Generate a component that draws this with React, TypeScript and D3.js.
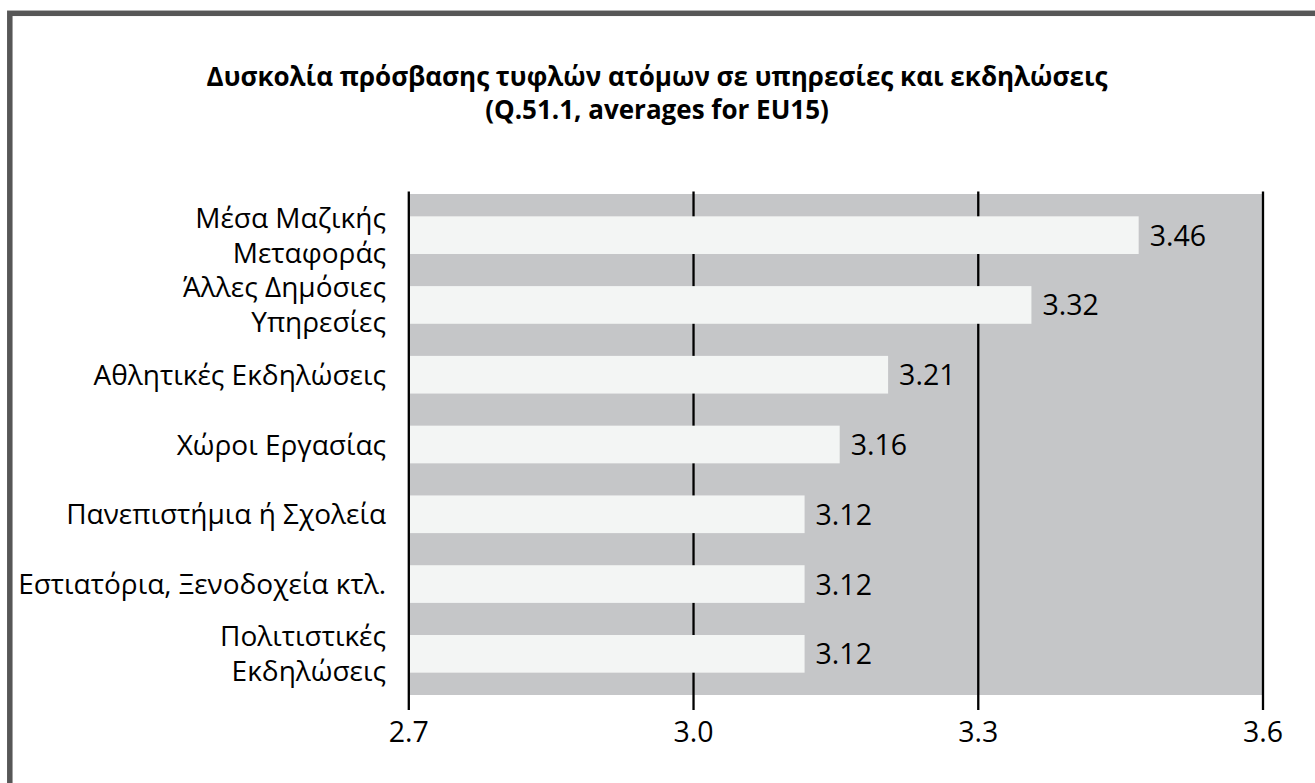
import React, { useEffect, useRef } from "react";
import { select, scaleLinear, scaleBand, format } from "d3";

const width = 1315;
const height = 783;

const title = [
  "Δυσκολία πρόσβασης τυφλών ατόμων σε υπηρεσίες και εκδηλώσεις",
  "(Q.51.1, averages for EU15)",
];

// category labels, already split into the lines they are drawn on
const categories = [
  ["Μέσα Μαζικής", "Μεταφοράς"],
  ["Άλλες Δημόσιες", "Υπηρεσίες"],
  ["Αθλητικές Εκδηλώσεις"],
  ["Χώροι Εργασίας"],
  ["Πανεπιστήμια ή Σχολεία"],
  ["Εστιατόρια, Ξενοδοχεία κτλ."],
  ["Πολιτιστικές", "Εκδηλώσεις"],
];

// bar lengths as drawn, and the numbers printed beside them
const values = [3.469, 3.356, 3.205, 3.154, 3.117, 3.117, 3.117];
const valueLabels = ["3.46", "3.32", "3.21", "3.16", "3.12", "3.12", "3.12"];
const xTicks = [2.7, 3.0, 3.3, 3.6];

const plot = { left: 408.8, right: 1263, top: 194, bottom: 695 };
const font = "'Open Sans', 'Noto Sans', sans-serif";

const App = () => {
  const ref = useRef<SVGSVGElement>(null);

  useEffect(() => {
    const svg = select(ref.current);
    svg.selectAll("*").remove();

    const x = scaleLinear().domain([2.7, 3.6]).range([plot.left, plot.right]);
    const y = scaleBand<number>()
      .domain(categories.map((_, i) => i))
      .range([plot.top, plot.bottom])
      .paddingInner(0.46)
      .paddingOuter(0.32);

    svg.append("rect")
      .attr("width", width)
      .attr("height", height)
      .attr("fill", "#fff");

    // frame
    svg.append("rect")
      .attr("x", 9.8)
      .attr("y", 13.3)
      .attr("width", 1400)
      .attr("height", 900)
      .attr("fill", "none")
      .attr("stroke", "#575757")
      .attr("stroke-width", 5.5);

    svg.append("g")
      .selectAll("text")
      .data(title)
      .join("text")
      .attr("x", 657)
      .attr("y", (_, i) => 86 + i * 33)
      .attr("text-anchor", "middle")
      .attr("font-family", font)
      .attr("font-weight", "bold")
      .attr("font-size", 26)
      .attr("fill", "#000")
      .text((d) => d);

    // plot background
    svg.append("rect")
      .attr("x", x(2.7))
      .attr("y", plot.top)
      .attr("width", x(3.6) - x(2.7))
      .attr("height", plot.bottom - plot.top)
      .attr("fill", "#c5c6c8");

    // grid lines
    svg.append("g")
      .selectAll("line")
      .data(xTicks)
      .join("line")
      .attr("x1", (d) => x(d))
      .attr("x2", (d) => x(d))
      .attr("y1", plot.top - 2.5)
      .attr("y2", plot.bottom + 15)
      .attr("stroke", "#000")
      .attr("stroke-width", 2.3);

    // bars
    svg.append("g")
      .selectAll("rect")
      .data(values)
      .join("rect")
      .attr("x", x(2.7) + 1.2)
      .attr("y", (_, i) => y(i)!)
      .attr("width", (d) => x(d) - x(2.7) - 1.2)
      .attr("height", y.bandwidth())
      .attr("fill", "#f3f5f4");

    svg.append("g")
      .selectAll("text")
      .data(values)
      .join("text")
      .attr("x", (d) => x(d) + 11)
      .attr("y", (_, i) => y(i)! + y.bandwidth() / 2 + 10.5)
      .attr("font-family", font)
      .attr("font-size", 28.5)
      .attr("fill", "#000")
      .text((_, i) => valueLabels[i]);

    // category labels
    const labels = svg.append("g")
      .selectAll("text")
      .data(categories)
      .join("text")
      .attr("text-anchor", "end")
      .attr("font-family", font)
      .attr("font-size", 28)
      .attr("fill", "#000");

    labels.each(function (lines, i) {
      const cy = y(i)! + y.bandwidth() / 2;
      const lh = 35;
      const first = cy - ((lines.length - 1) * lh) / 2 + 10;
      select(this)
        .selectAll("tspan")
        .data(lines)
        .join("tspan")
        .attr("x", 386)
        .attr("y", (_, j) => first + j * lh)
        .text((d) => d);
    });

    // tick labels
    svg.append("g")
      .selectAll("text")
      .data(xTicks)
      .join("text")
      .attr("x", (d) => x(d))
      .attr("y", 742)
      .attr("text-anchor", "middle")
      .attr("font-family", font)
      .attr("font-size", 28.5)
      .attr("fill", "#000")
      .text((d) => format(".1f")(d));
  }, []);

  return (
    <svg
      ref={ref}
      width={width}
      height={height}
      style={{ position: "absolute", left: 0, top: 0, display: "block" }}
    />
  );
};

export default App;
